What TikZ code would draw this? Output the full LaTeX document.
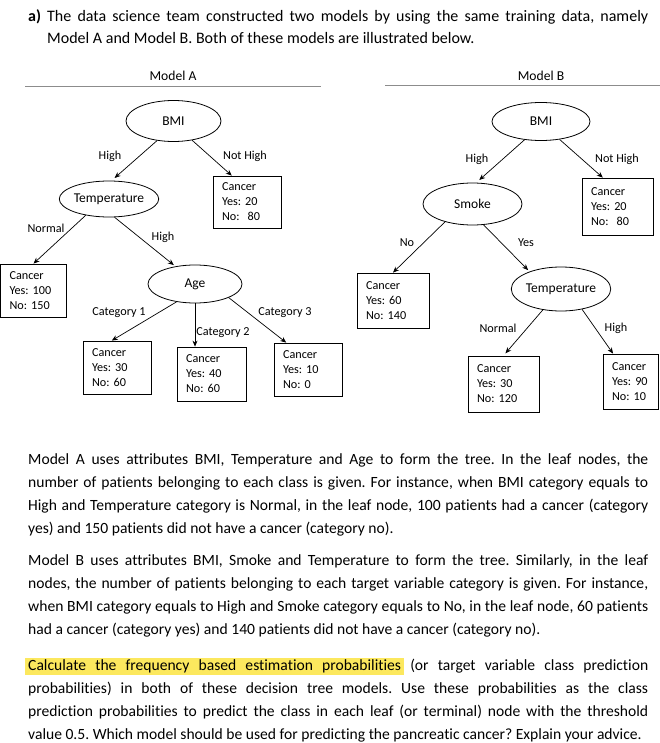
\documentclass[tikz,border=0pt]{standalone}
\usepackage{fontspec}
\setmainfont[Ligatures=NoCommon]{Carlito}
\usepackage{xcolor}
\usetikzlibrary{shapes,arrows.meta,positioning}
\definecolor{hlyellow}{HTML}{FCE85E}
\definecolor{rulegray}{HTML}{8C8C8C}
\frenchspacing
\setlength{\fboxsep}{0pt}
% highlighted word and highlighted space
\newcommand{\hlw}[1]{\colorbox{hlyellow}{\vrule height 12.5pt depth 4.5pt width 0pt #1}}
\newcommand{\hls}{{\color{hlyellow}\leaders\vrule height 12.5pt depth 4.5pt\hskip\fontdimen2\font plus\fontdimen3\font minus\fontdimen4\font}}
\newcommand{\hlpad}{{\color{hlyellow}\vrule height 12.5pt depth 4.5pt width 3pt}}

\tikzset{
  split/.style={draw, ellipse, line width=0.8pt, inner sep=0pt, font=\fontsize{13.5}{15}\selectfont},
  leaf/.style 2 args={draw, line width=0.8pt, align=left, inner xsep=9pt, inner ysep=0pt,
    text width=#1, minimum height=#2, font=\fontsize{12.2}{15}\selectfont},
  branch/.style={inner sep=1pt, font=\fontsize{12.2}{14}\selectfont},
  title/.style={inner sep=0pt, font=\fontsize{13.6}{15}\selectfont},
  edge/.style={-{Stealth[length=6pt,width=5pt]}, line width=0.7pt},
  para/.style={anchor=base west, text width=620pt, align=justify, inner sep=0pt,
    font=\fontsize{15.6}{23}\selectfont},
}

\begin{document}
\begin{tikzpicture}[x=1pt,y=-1pt]
\useasboundingbox (0,0) rectangle (660,743);

% Question text
\node[para, text width=601pt, font=\fontsize{16}{22}\selectfont] (intro) at (47,22) {\llap{\makebox[19pt][l]{\textbf{a)}}}The data science team constructed two models by using the same training data, namely\linebreak Model A and Model B. Both of these models are illustrated below.};

% Model A
\node[title] (titleA) at (173,76) {Model A};
\draw[rulegray, line width=0.6pt] (25,86) -- (321,86);
\node[split, minimum width=95pt, minimum height=41pt] (bmiA) at (173.5,121) {BMI};
\node[split, minimum width=94pt, minimum height=36pt] (tempA) at (109,199) {Temperature};
\node[split, minimum width=94pt, minimum height=38pt] (ageA) at (195,284) {Age};
\node[leaf={50pt}{52pt}] (notA) at (247,202) {Cancer\\Yes: 20\\No:\ \ 80};
\node[leaf={48pt}{53pt}] (normA) at (33.5,290.5) {Cancer\\Yes: 100\\No: 150};
\node[leaf={50pt}{53pt}] (catA1) at (117,367.5) {Cancer\\Yes: 30\\No: 60};
\node[leaf={51pt}{54pt}] (catA2) at (211.5,374) {Cancer\\Yes: 40\\No: 60};
\node[leaf={50pt}{53pt}] (catA3) at (308,369.5) {Cancer\\Yes: 10\\No: 0};
\node[branch] (hiA) at (110,156) {High};
\node[branch] (nhA) at (245,156) {Not High};
\node[branch] (nmA) at (46,228) {Normal};
\node[branch] (htA) at (163,237) {High};
\node[branch] (c1A) at (119,313) {Category 1};
\node[branch] (c2A) at (223,333) {Category 2};
\node[branch] (c3A) at (285,313) {Category 3};
\draw[edge, shorten >=4pt] (bmiA.230) -- (tempA.82);
\draw[edge] (bmiA.314) -- (notA.120);
\draw[edge] (tempA.215) -- (normA.north);
\draw[edge, shorten >=2pt] (tempA.287) -- (ageA.138);
\draw[edge] (ageA.224) -- (catA1.101);
\draw[edge] (ageA.south) -- (ageA.south |- catA2.north);
\draw[edge] (ageA.338) -- (catA3.129);

% Model B
\node[title] (titleB) at (541,76) {Model B};
\draw[rulegray, line width=0.6pt] (385,85) -- (660,85);
\node[split, minimum width=98pt, minimum height=38pt] (bmiB) at (541,121.5) {BMI};
\node[split, minimum width=99pt, minimum height=42pt] (smokeB) at (472.5,204) {Smoke};
\node[split, minimum width=98pt, minimum height=44pt] (tempB) at (561,289) {Temperature};
\node[leaf={53pt}{57pt}] (notB) at (617.5,206.5) {Cancer\\Yes: 20\\No:\ \ 80};
\node[leaf={54pt}{55pt}] (noB) at (393,300.5) {Cancer\\Yes: 60\\No: 140};
\node[leaf={53pt}{56pt}] (normB) at (503.5,384) {Cancer\\Yes: 30\\No: 120};
\node[leaf={37pt}{55pt}] (highB) at (630.5,381.5) {Cancer\\Yes: 90\\No: 10};
\node[branch] (hiB) at (477,159) {High};
\node[branch] (nhB) at (617,159) {Not High};
\node[branch] (nB) at (407,243) {No};
\node[branch] (yB) at (526,243) {Yes};
\node[branch] (nmB) at (498,328) {Normal};
\node[branch] (htB) at (616,328) {High};
\draw[edge, shorten >=4pt] (bmiB.228) -- (smokeB.80);
\draw[edge] (bmiB.316) -- (notB.117);
\draw[edge] (smokeB.213) -- (noB.north);
\draw[edge, shorten >=2pt] (smokeB.298) -- (tempB.151);
\draw[edge, shorten >=3pt] (tempB.229) -- (normB.north);
\draw[edge] (tempB.316) -- (highB.122);

% Explanation paragraphs
\node[para] (txtA) at (28,464) {Model A uses attributes BMI, Temperature and Age to form the tree. In the leaf nodes, the\linebreak number of patients belonging to each class is given. For instance, when BMI category equals to\linebreak High and Temperature category is Normal, in the leaf node, 100 patients had a cancer (category\linebreak yes) and 150 patients did not have a cancer (category no).};
\node[para] (txtB) at (28,565) {Model B uses attributes BMI, Smoke and Temperature to form the tree. Similarly, in the leaf\linebreak nodes, the number of patients belonging to each target variable category is given. For instance,\linebreak when BMI category equals to High and Smoke category equals to No, in the leaf node, 60 patients\linebreak had a cancer (category yes) and 140 patients did not have a cancer (category no).};
\node[para] (task) at (28,670) {\llap{\hlpad}\hlw{Calculate}\hls\hlw{the}\hls\hlw{frequency}\hls\hlw{based}\hls\hlw{estimation}\hls\hlw{probabilities}\rlap{\hlpad} (or target variable class prediction\linebreak probabilities) in both of these decision tree models. Use these probabilities as the class\linebreak prediction probabilities to predict the class in each leaf (or terminal) node with the threshold\linebreak value 0.5. Which model should be used for predicting the pancreatic cancer? Explain your advice.};
\end{tikzpicture}
\end{document}
